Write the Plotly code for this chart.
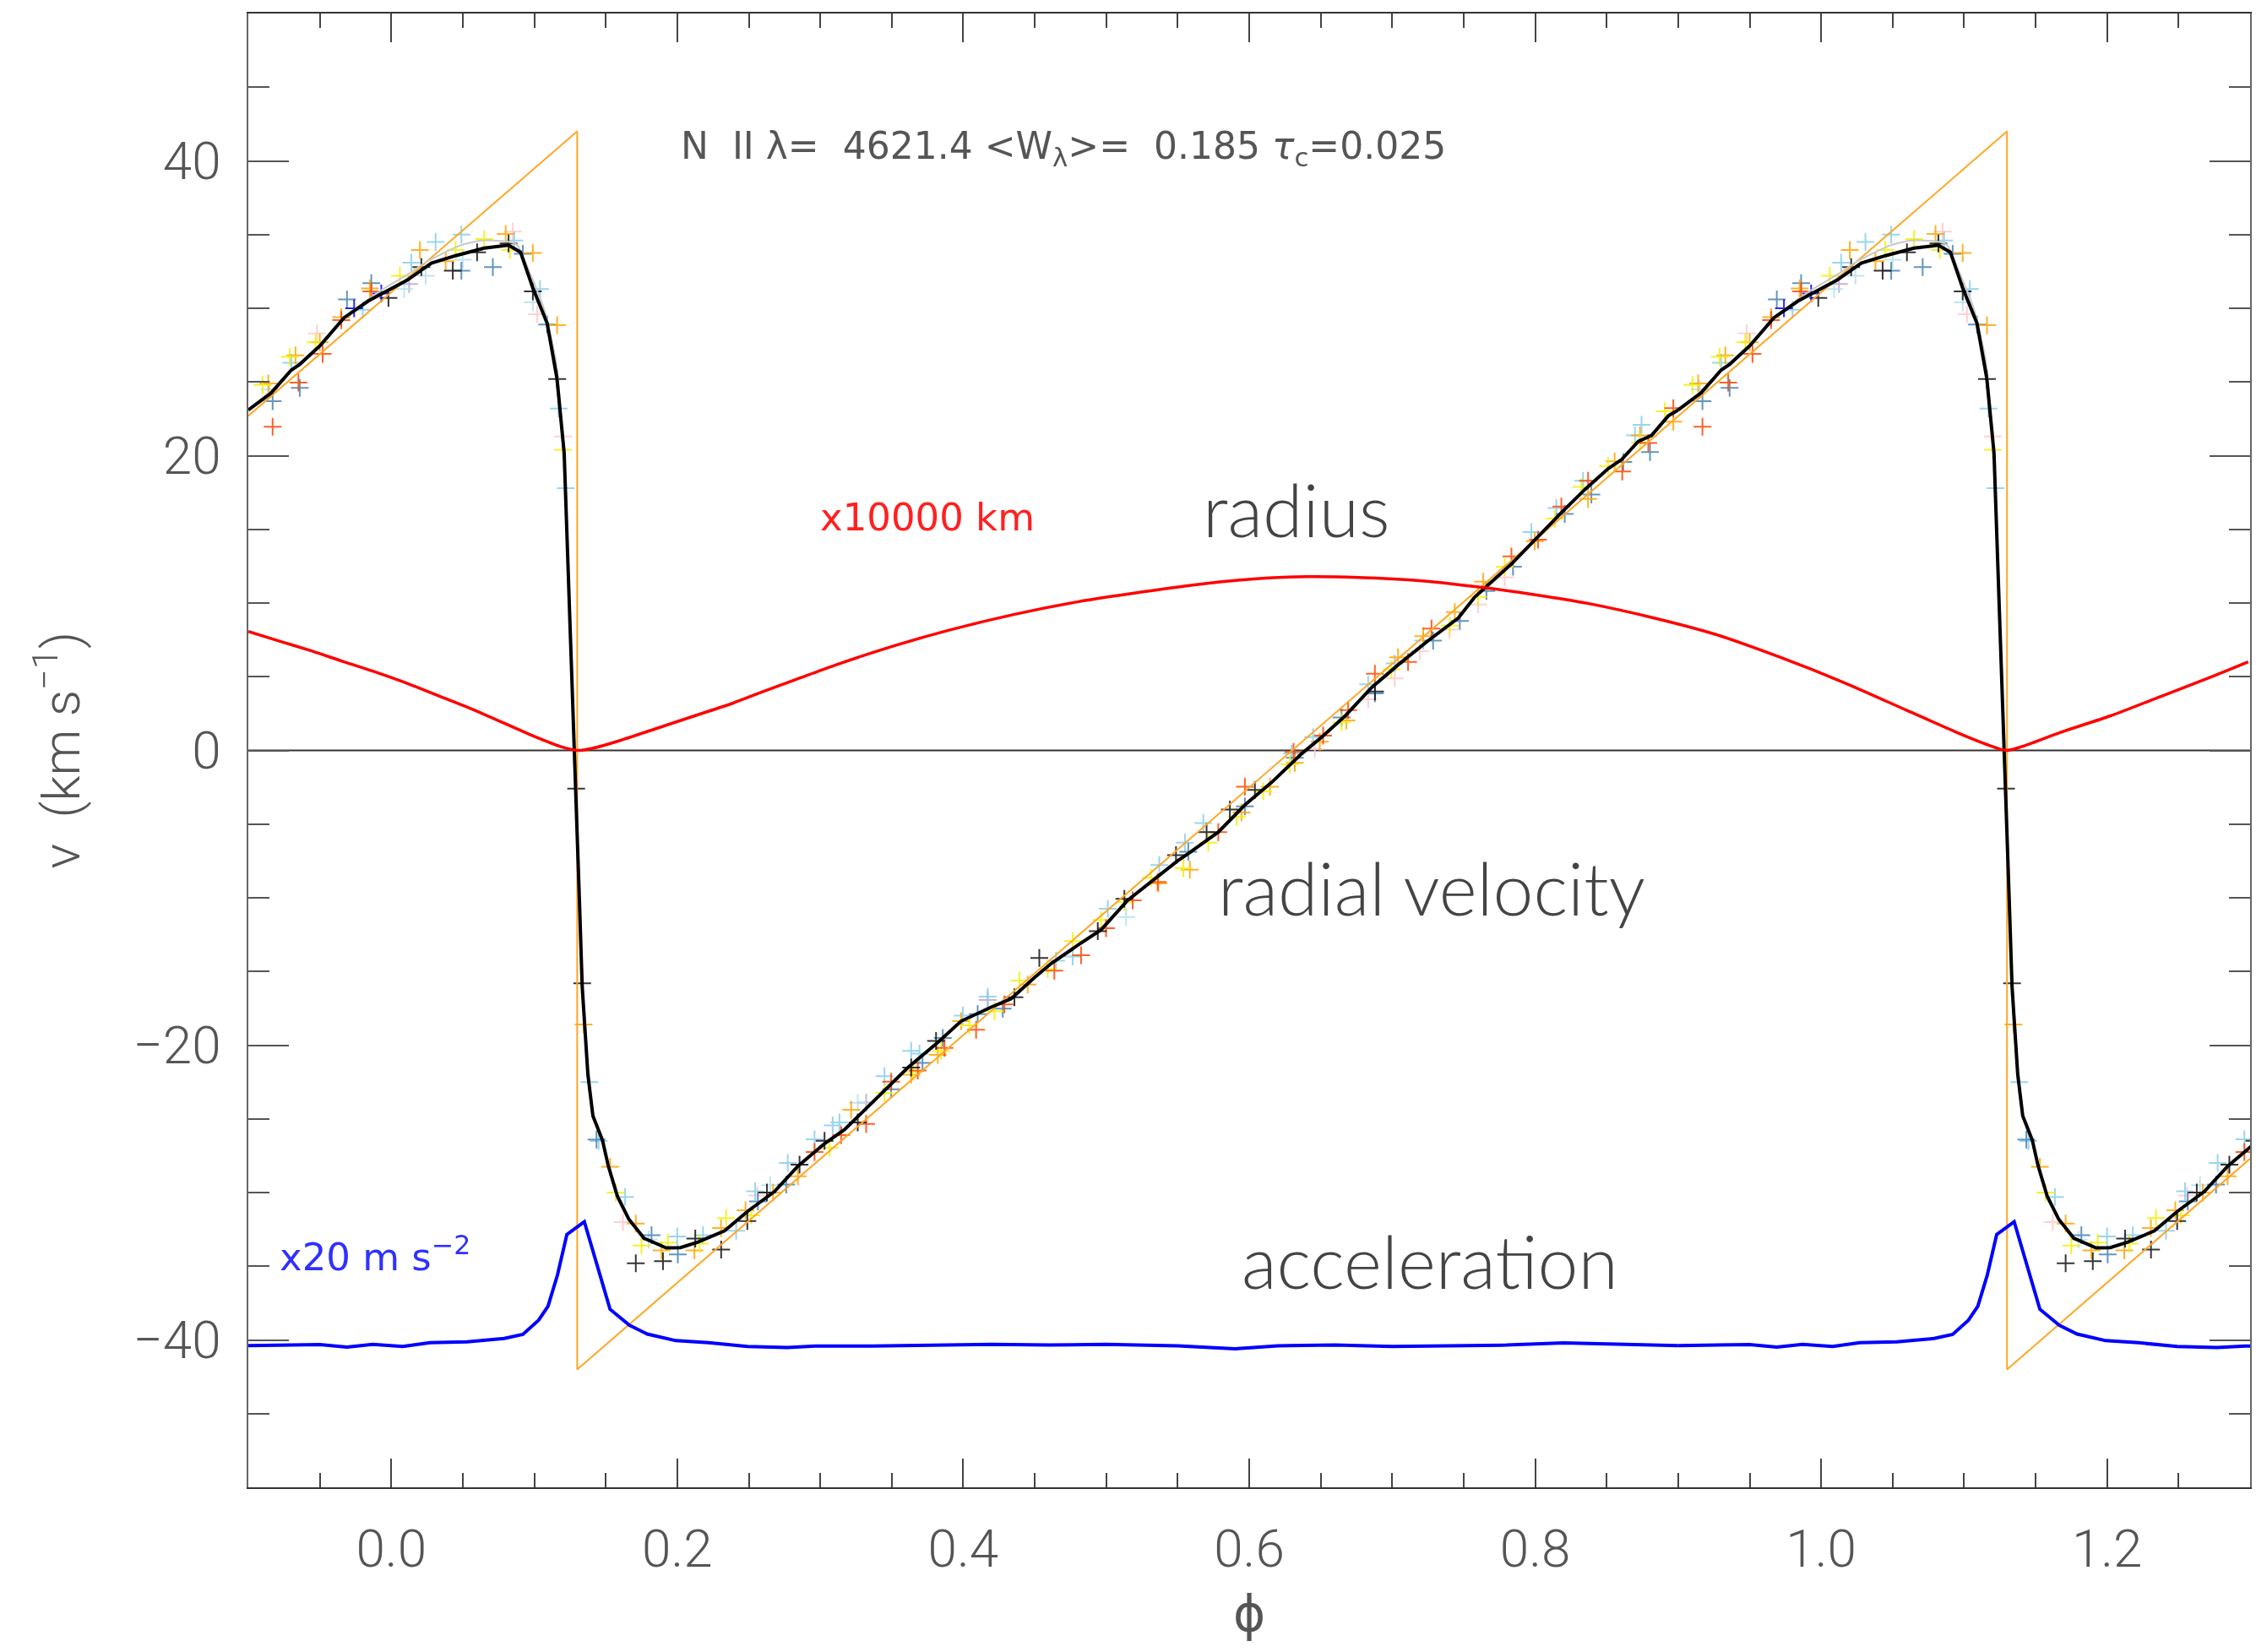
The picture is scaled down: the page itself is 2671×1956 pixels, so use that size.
import plotly.graph_objects as go

# ---------------- data ----------------
# orange reference sawtooth (vertices)
saw_phase = [-0.1, 0.13, 0.13, 1.13, 1.13, 1.3]
saw_v = [22.7, 42.0, -42.0, 42.0, -42.0, -27.7]

# radius curve (x10000 km), phase -0.1 .. 1.3
rad_phase = [-0.1, -0.0777, -0.0554, -0.0331, -0.0108, 0.0115, 0.0338, 0.0561, 0.0784, 0.1007,
             0.1186, 0.1302, 0.1409, 0.1587, 0.1855, 0.2122, 0.239, 0.2568, 0.2836, 0.3103,
             0.346, 0.3906, 0.4352, 0.4798, 0.5245, 0.5691, 0.6137, 0.6404, 0.6761, 0.7207,
             0.7653, 0.801, 0.8367, 0.8813, 0.9259, 0.9705, 1.0151, 1.0597, 1.0954, 1.1177,
             1.1293, 1.14, 1.1667, 1.2024, 1.238, 1.2737, 1.2987]
rad_val = [8.07, 7.40, 6.74, 6.01, 5.31, 4.54, 3.68, 2.82, 1.87, 0.92,
           0.25, 0.0, 0.15, 0.63, 1.49, 2.35, 3.21, 3.87, 4.83, 5.78,
           6.93, 8.17, 9.22, 10.08, 10.74, 11.32, 11.70, 11.79, 11.74, 11.51,
           11.03, 10.55, 9.98, 9.03, 7.88, 6.35, 4.64, 2.73, 1.2, 0.34,
           0.0, 0.25, 1.2, 2.35, 3.68, 5.02, 6.01]

# mean radial velocity curve (one period, phase -0.1 .. 0.9)
vel_phase = [-0.100, -0.091, -0.084, -0.070, -0.064, -0.050, -0.033, -0.016, -0.003, 0.011,
             0.028, 0.045, 0.065, 0.082, 0.0904, 0.0989, 0.109, 0.1158, 0.1209, 0.1243,
             0.127, 0.1295, 0.1315, 0.1335, 0.1375, 0.141, 0.1477, 0.1517, 0.1582, 0.1661,
             0.1767, 0.1923, 0.2022, 0.2145, 0.2331, 0.2494, 0.268, 0.2844, 0.303, 0.317,
             0.331, 0.345, 0.3613, 0.3822, 0.3985, 0.4195, 0.4335, 0.4498, 0.4615, 0.4801,
             0.4964, 0.515, 0.5337, 0.55, 0.5574, 0.5784, 0.597, 0.6157, 0.6367, 0.6507,
             0.667, 0.6857, 0.7042, 0.7252, 0.7462, 0.7578, 0.7835, 0.7998, 0.8184, 0.8347,
             0.8511, 0.8605, 0.8721, 0.8814, 0.8931, 0.900]
vel_val = [23.1, 23.75, 24.26, 25.8, 26.2, 27.45, 29.36, 30.5, 31.15, 31.9,
           33.06, 33.57, 34.08, 34.28, 33.8, 31.4, 28.98, 25.28, 20.18, 10.8,
           3.0, -3.0, -10.0, -16.0, -22.0, -24.8, -26.45, -28.17, -30.27, -31.8,
           -33.1, -33.76, -33.74, -33.36, -32.6, -31.26, -29.93, -28.21, -26.68, -25.73,
           -24.39, -23.05, -21.52, -19.81, -18.37, -17.42, -16.85, -15.42, -14.46, -13.22,
           -12.17, -10.17, -8.73, -7.49, -7.0, -5.54, -3.7, -2.17, -0.22, 0.9,
           2.33, 4.27, 5.81, 7.45, 8.98, 10.41, 12.66, 14.3, 16.14, 17.7,
           19.12, 19.74, 20.97, 21.37, 22.7, 23.1]

# faint grey individual curve (visible part near maximum)
grey_phase = [-0.033, -0.008, 0.0116, 0.0234, 0.047, 0.0627, 0.080, 0.088, 0.096, 0.107, 0.115, 0.120]
grey_val = [29.4, 31.17, 32.3, 33.08, 34.22, 34.6, 34.55, 34.3, 32.6, 29.9, 26.5, 21.5]

# acceleration curve (x20 m s^-2, offset), one period
acc_phase = [-0.100, -0.0735, -0.050, -0.031, -0.013, 0.008, 0.027, 0.053, 0.079, 0.092,
             0.103, 0.1096, 0.1162, 0.1228, 0.135, 0.153, 0.1665, 0.179, 0.199, 0.222,
             0.249, 0.277, 0.2965, 0.336, 0.375, 0.42, 0.46, 0.50, 0.55, 0.59,
             0.62, 0.66, 0.70, 0.74, 0.78, 0.82, 0.86, 0.90]
acc_val = [-40.38, -40.32, -40.32, -40.48, -40.3, -40.44, -40.19, -40.13, -39.9, -39.62,
           -38.66, -37.71, -35.6, -32.84, -31.98, -37.92, -39.0, -39.6, -40.05, -40.19,
           -40.45, -40.52, -40.42, -40.42, -40.37, -40.3, -40.35, -40.3, -40.4, -40.6,
           -40.4, -40.35, -40.45, -40.4, -40.35, -40.2, -40.3, -40.38]

# individual measurements (phase folded), per colour
orange_ph = [-0.086, -0.067, -0.050, -0.035, -0.015, 0.020, 0.038, 0.080, 0.099, 0.116, 0.1345, 0.153, 0.171,
             0.189, 0.212, 0.2306, 0.2477, 0.267, 0.2843, 0.3216, 0.3636, 0.3822, 0.3985, 0.4451, 0.5364,
             0.5585, 0.5946, 0.6145, 0.6319, 0.6494, 0.668, 0.7041, 0.7217, 0.7438, 0.7636, 0.7997, 0.837,
             0.8556, 0.8733, 0.8966]
orange_v = [24.9, 26.8, 27.7, 29.4, 31.35, 33.95, 33.2, 35.05, 33.75, 28.85, -18.6, -28.25, -32.1,
            -33.93, -33.93, -32.4, -31.2, -30.0, -28.9, -24.39, -22.0, -20.66, -18.37, -15.89, -9.02,
            -8.1, -4.21, -2.47, -0.84, 0.59, 2.03, 6.32, 7.75, 9.39, 11.44, 14.2, 17.06,
            19.62, 21.37, 22.3]

red_ph = [-0.083, -0.065, -0.048, -0.035, -0.014, 0.296, 0.3146, 0.3321, 0.3496, 0.3682, 0.3869, 0.409,
          0.4288, 0.4637, 0.4824, 0.4999, 0.5185, 0.536, 0.5784, 0.597, 0.631, 0.6517, 0.6692, 0.6879,
          0.7111, 0.7275, 0.7834, 0.802, 0.8183, 0.837, 0.8609, 0.8791, 0.8966]
red_v = [21.96, 24.95, 26.9, 29.2, 31.15, -27.25, -26.1, -25.34, -22.48, -21.72, -20.19, -18.95,
         -17.23, -14.94, -13.89, -12.07, -10.17, -8.92, -5.54, -2.47, -0.1, 1.0, 2.74, 5.2,
         6.01, 8.26, 13.17, 14.3, 16.55, 18.29, 18.92, 20.86, 23.22]

yellow_ph = [-0.09, -0.071, -0.053, 0.006, 0.045, 0.065, 0.083, 0.12, 0.157, 0.175, 0.1934, 0.2156, 0.2342,
             0.2517, 0.3065, 0.3449, 0.365, 0.3845, 0.4043, 0.4218, 0.4393, 0.4591, 0.4766, 0.4964, 0.5127,
             0.5313, 0.5539, 0.5714, 0.5912, 0.6098, 0.6284, 0.6646, 0.6995, 0.7403, 0.7601, 0.7787,
             0.8137, 0.8323, 0.851, 0.8733, 0.8907]
yellow_v = [24.8, 26.7, 27.7, 32.2, 33.95, 34.7, 33.95, 20.4, -30.0, -33.6, -33.4, -33.46, -31.74,
            -31.55, -26.96, -23.24, -21.8, -20.4, -18.66, -17.7, -15.61, -14.84, -12.93, -11.5, -10.3,
            -8.64, -8.0, -6.26, -4.52, -2.78, -0.94, 1.9, 5.5, 8.47, 10.41, 12.46,
            15.73, 17.88, 19.3, 20.9, 23.01]

skyblue_ph = [-0.07, -0.02, 0.014, 0.031, 0.049, 0.086, 0.104, 0.117, 0.122, 0.1385, 0.145, 0.1635, 0.2,
              0.218, 0.2412, 0.2545, 0.2773, 0.296, 0.3087, 0.3134, 0.3449, 0.3636, 0.3694, 0.3997,
              0.4171, 0.4649, 0.4766, 0.5011, 0.5371, 0.5551, 0.5679, 0.6296, 0.6447, 0.6832, 0.7018,
              0.7217, 0.7973, 0.8148, 0.8335, 0.8698, 0.8744]
skyblue_v = [26.3, 29.9, 33.1, 34.5, 35.0, 34.6, 31.3, 23.2, 17.8, -22.5, -26.5, -30.3, -32.98,
             -32.9, -32.6, -29.92, -28.0, -26.39, -25.44, -25.25, -22.1, -20.38, -20.57, -17.99,
             -16.7, -14.27, -13.98, -10.74, -7.78, -6.26, -4.93, -0.22, 0.9, 4.48, 5.9,
             7.45, 14.81, 16.45, 18.29, 21.37, 22.09]

lightblue_ph = [-0.085, 0.009, 0.024, 0.05, 0.099, 0.18, 0.265, 0.3262, 0.5139]
lightblue_v = [24.5, 31.3, 32.2, 33.3, 30.4, -33.2, -29.5, -23.91, -11.31]

steel_ph = [-0.083, -0.064, -0.031, -0.014, 0.049, 0.071, 0.092, 0.109, 0.1435, 0.182, 0.2004, 0.2564,
            0.2762, 0.3496, 0.3715, 0.3857, 0.4101, 0.4276, 0.5574, 0.597, 0.6319, 0.6646, 0.6879,
            0.7286, 0.7473, 0.7659, 0.7845, 0.8207, 0.8393, 0.8616, 0.8803]
steel_v = [23.7, 24.6, 30.6, 31.7, 32.55, 32.8, 33.7, 28.9, -26.4, -32.9, -34.2, -30.6,
           -29.45, -23.0, -21.2, -19.52, -17.9, -17.52, -6.87, -3.8, -0.5, 2.23, 3.87,
           7.45, 8.78, 10.82, 12.46, 16.04, 17.37, 19.57, 20.25]

black_ph = [-0.002, 0.021, 0.043, 0.06, 0.082, 0.099, 0.116, 0.1293, 0.1335, 0.171, 0.19, 0.2126, 0.2307,
            0.249, 0.2627, 0.2855, 0.303, 0.3262, 0.3636, 0.381, 0.4358, 0.4532, 0.4941, 0.5127, 0.5488,
            0.5702, 0.5865, 0.604, 0.688]
black_v = [30.7, 32.8, 32.55, 33.8, 34.4, 31.15, 25.2, -2.6, -15.8, -34.8, -34.66, -33.13, -33.87,
           -31.93, -30.0, -28.11, -26.49, -25.25, -21.52, -19.71, -16.75, -14.08, -12.27, -10.07, -7.11,
           -5.54, -4.01, -2.68, 4.0]

pink_ph = [-0.052, 0.085, 0.102, 0.12, 0.162, 0.256, 0.6459, 0.6832, 0.7018, 0.7193, 0.74, 0.7601, 0.7787]
pink_v = [28.3, 35.2, 29.6, 21.3, -32.0, -30.2, 0.08, 3.46, 4.89, 6.73, 8.2, 9.9, 11.74]

blue_ph = [-0.026, -0.007]
blue_v = [30.0, 31.0]

lavender_ph = [0.0125, 0.3321, 0.4171]
lavender_v = [31.65, -23.9, -16.94]

# ---------------- figure ----------------
def two_cycles(ph, v):
    return list(ph) + [p + 1.0 for p in ph], list(v) + list(v)

fig = go.Figure()

# zero line
fig.add_trace(go.Scatter(x=[-0.1, 1.3], y=[0, 0], mode="lines",
                         line=dict(color="#333333", width=2), hoverinfo="skip", showlegend=False))

cross_sets = [
    (lavender_ph, lavender_v, "#B9A7C9"),
    (pink_ph, pink_v, "#FFC8CC"),
    (lightblue_ph, lightblue_v, "#B5E0EC"),
    (skyblue_ph, skyblue_v, "#87CEEB"),
    (steel_ph, steel_v, "#4682B4"),
    (orange_ph, orange_v, "#FFA500"),
    (yellow_ph, yellow_v, "#F2F000"),
    (red_ph, red_v, "#FF4500"),
    (black_ph, black_v, "#111111"),
    (blue_ph, blue_v, "#0000FF"),
]
for ph, v, col in cross_sets:
    xx, yy = two_cycles(ph, v)
    fig.add_trace(go.Scatter(x=xx, y=yy, mode="markers",
                             marker=dict(symbol="cross-thin", size=15,
                                         line=dict(color=col, width=2)),
                             opacity=0.85, showlegend=False, hoverinfo="skip"))

# orange sawtooth
fig.add_trace(go.Scatter(x=saw_phase, y=saw_v, mode="lines",
                         line=dict(color="#FFA726", width=2), showlegend=False))

# grey individual curve
gx, gy = two_cycles(grey_phase, grey_val)
n = len(grey_phase)
for sl in (slice(0, n), slice(n, 2 * n)):
    fig.add_trace(go.Scatter(x=gx[sl], y=gy[sl], mode="lines",
                             line=dict(color="#C8C8C8", width=2, shape="spline", smoothing=0.6),
                             showlegend=False))

# mean velocity curve (two cycles)
for shift in (0.0, 1.0):
    fig.add_trace(go.Scatter(x=[p + shift for p in vel_phase], y=vel_val, mode="lines",
                             line=dict(color="#000000", width=4), showlegend=False))

# radius
fig.add_trace(go.Scatter(x=rad_phase, y=rad_val, mode="lines",
                         line=dict(color="#FF0000", width=3.5, shape="spline", smoothing=0.8),
                         showlegend=False))

# acceleration
for shift in (0.0, 1.0):
    fig.add_trace(go.Scatter(x=[p + shift for p in acc_phase], y=acc_val, mode="lines",
                             line=dict(color="#0000FF", width=4), showlegend=False))

tick_font = dict(family="Roboto, Liberation Sans, sans-serif", size=62, color="#555555", weight=300)

fig.update_layout(
    width=2671, height=1956,
    margin=dict(l=294, r=5, t=16, b=195),
    paper_bgcolor="white", plot_bgcolor="white",
    showlegend=False,
    xaxis=dict(range=[-0.1, 1.3], tickvals=[0.0, 0.2, 0.4, 0.6, 0.8, 1.0, 1.2],
               ticktext=["0.0", "0.2", "0.4", "0.6", "0.8", "1.0", "1.2"],
               ticks="inside", ticklen=34, tickwidth=2, tickcolor="#444444",
               showline=True, linecolor="#333333", linewidth=2, mirror="allticks",
               showgrid=False, zeroline=False, tickfont=tick_font, ticklabelstandoff=18,
               minor=dict(dtick=0.05, tick0=0, ticks="inside", ticklen=17, tickwidth=1.5,
                          tickcolor="#444444", showgrid=False)),
    yaxis=dict(range=[-50, 50], tickvals=[-40, -20, 0, 20, 40],
               ticktext=["\u221240", "\u221220", "0", "20", "40"],
               ticks="inside", ticklen=48, tickwidth=2, tickcolor="#555555",
               showline=True, linecolor="#666666", linewidth=2, mirror="allticks",
               showgrid=False, zeroline=False, tickfont=tick_font, ticklabelstandoff=18,
               minor=dict(dtick=5, tick0=0, ticks="inside", ticklen=25, tickwidth=1.5,
                          tickcolor="#555555", showgrid=False)),
)

label_font = dict(family="Lato, Open Sans, sans-serif", size=86, color="#444444", weight=300)
small_font = dict(family="DejaVu Sans, sans-serif", size=44, color="#555555")
NB = "\u00a0"

fig.add_annotation(x=0.2012, y=40.85, xref="x", yref="y", xanchor="left", yanchor="middle",
                   text=f"N{NB}{NB}II{NB}λ={NB}{NB}4621.4{NB}&lt;W<sub>λ</sub>&gt;={NB}{NB}0.185{NB}<i>τ</i><sub>c</sub>=0.025",
                   showarrow=False, font=small_font)
fig.add_annotation(x=0.6326, y=16.4, xref="x", yref="y", text="radius", showarrow=False,
                   font=label_font, xanchor="center", yanchor="middle")
fig.add_annotation(x=0.7276, y=-9.3, xref="x", yref="y", text="radial velocity", showarrow=False,
                   font=label_font, xanchor="center", yanchor="middle")
fig.add_annotation(x=0.7264, y=-34.6, xref="x", yref="y", text="acceleration", showarrow=False,
                   font=label_font, xanchor="center", yanchor="middle")
fig.add_annotation(x=0.299, y=15.84, xref="x", yref="y", xanchor="left", yanchor="middle",
                   text=f"x10000{NB}km", showarrow=False,
                   font=dict(family="DejaVu Sans, sans-serif", size=45, color="#FF2020"))
fig.add_annotation(x=-0.0794, y=-34.2, xref="x", yref="y", xanchor="left", yanchor="middle",
                   text=f"x20{NB}m{NB}s<sup>\u22122</sup>", showarrow=False,
                   font=dict(family="DejaVu Sans, sans-serif", size=45, color="#3030FF"))
# axis titles
fig.add_annotation(x=-0.0953, y=0.5, xref="paper", yref="paper", textangle=-90,
                   text=f"v{NB}{NB}(km{NB}s<sup>\u22121</sup>)", showarrow=False,
                   font=dict(family="Roboto, Liberation Sans, sans-serif", size=62, color="#555555", weight=300),
                   xanchor="center", yanchor="middle")
fig.add_annotation(x=0.5, y=-0.086, xref="paper", yref="paper", text="ϕ", showarrow=False,
                   font=dict(family="DejaVu Sans, sans-serif", size=58, color="#555555"),
                   xanchor="center", yanchor="middle")

fig.write_html("out.html")
